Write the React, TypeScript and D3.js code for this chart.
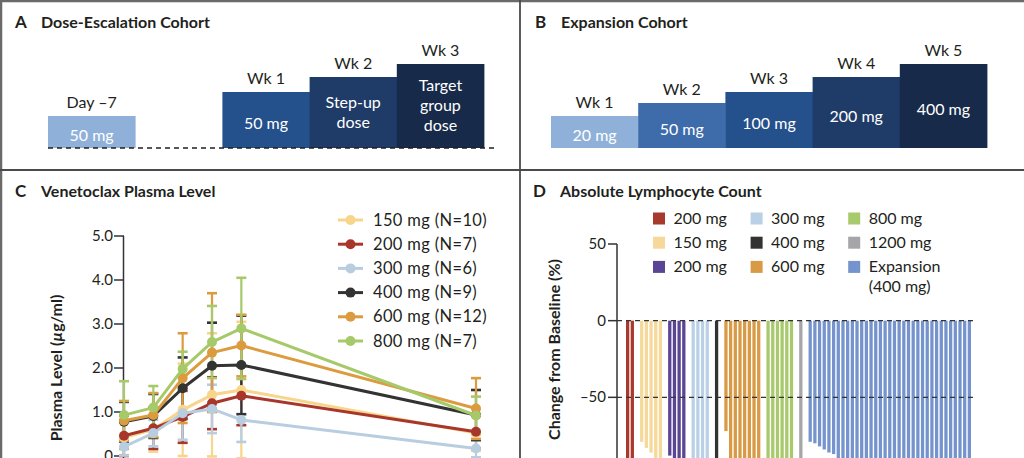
import React from 'react';
import * as d3 from 'd3';

const FONT = "Lato, 'Open Sans', 'DejaVu Sans', sans-serif";
const INK = '#231f20';

// ---------- Panel A: dose-escalation schedule ----------
const escalationWeeks = ['Day –7', 'Wk 1', 'Wk 2', 'Wk 3'];
const escalationSlots = [0, 2, 3, 4];
const escalationDoses = [['50 mg'], ['50 mg'], ['Step-up', 'dose'], ['Target', 'group', 'dose']];
const escalationLevels = [1, 3, 4, 5];
const escalationColors = ['#8fb1d9', '#24508c', '#1f3b68', '#172a4a'];

// ---------- Panel B: expansion schedule ----------
const expansionWeeks = ['Wk 1', 'Wk 2', 'Wk 3', 'Wk 4', 'Wk 5'];
const expansionDoses = ['20 mg', '50 mg', '100 mg', '200 mg', '400 mg'];
const expansionLevels = [1, 2, 3, 4, 5];
const expansionColors = ['#8fb1d9', '#3e6caa', '#24508c', '#1f3b68', '#172a4a'];

// ---------- Panel C: venetoclax plasma level (µg/ml) ----------
const plasmaHours = [0, 2, 4, 6, 8, 24];
const plasmaLabels = ['150 mg (N=10)', '200 mg (N=7)', '300 mg (N=6)', '400 mg (N=9)', '600 mg (N=12)', '800 mg (N=7)'];
const plasmaColors = ['#f7d58b', '#a8362b', '#b8cde0', '#333333', '#dc9b3e', '#a6c96a'];
const mean150 = [0.42, 0.6, 1.05, 1.39, 1.5, 0.52];
const sd150 = [0.4, 0.5, 1.05, 1.4, 1.55, 0.4];
const mean200 = [0.46, 0.63, 0.89, 1.2, 1.37, 0.55];
const sd200 = [0.46, 0.47, 0.59, 0.59, 0.67, 0.38];
const mean300 = [0.21, 0.52, 0.97, 1.07, 0.82, 0.17];
const sd300 = [0.2, 0.3, 0.6, 0.55, 0.5, 0.2];
const mean400 = [0.78, 0.91, 1.54, 2.05, 2.07, 0.93];
const sd400 = [0.45, 0.5, 0.7, 0.98, 1.12, 0.57];
const mean600 = [0.8, 0.93, 1.77, 2.35, 2.51, 1.08];
const sd600 = [0.45, 0.5, 1.02, 1.35, 0.7, 0.69];
const mean800 = [0.93, 1.1, 1.98, 2.59, 2.9, 0.92];
const sd800 = [0.77, 0.49, 0.39, 0.82, 1.15, 0.43];
const plasmaTicks = [0, 1, 2, 3, 4, 5];

// ---------- Panel D: absolute lymphocyte count change (%) ----------
const alcLabels = ['200 mg', '150 mg', '200 mg', '300 mg', '400 mg', '600 mg', '800 mg', '1200 mg', 'Expansion'];
const alcColors = ['#a8392d', '#f6d99a', '#5a4594', '#b9d0e6', '#333333', '#d99a46', '#a8c96c', '#a6a6a8', '#7593cc'];
const alc200a = [-93, -97];
const alc150 = [-79, -83, -86, -93, -98];
const alc200b = [-88, -94, -97, -99];
const alc300 = [-92, -95, -98, -100];
const alc400 = [-96];
const alc600 = [-72, -91, -94, -96, -97, -98, -99, -100];
const alc800 = [-92, -95, -97, -98, -99, -100];
const alc1200 = [-97];
const alcExpansion = [-79, -80, -82, -84, -86, -87, -90, -91, -91, -92, -92, -93, -93, -94, -94, -95, -95, -95, -96, -96, -96, -97, -97, -97, -98, -98, -98, -98, -99, -99, -99, -99, -100, -100, -100];
const alcTicks = [50, 0, -50];

const alcGroups = [alc200a, alc150, alc200b, alc300, alc400, alc600, alc800, alc1200, alcExpansion];

function fmtMinus(v: number) {
  return v < 0 ? '–' + Math.abs(v) : String(v);
}

export default function App() {
  // shared step height scale for A and B
  const levelY = d3.scaleLinear().domain([0, 1, 2, 3, 4, 5]).range([148, 116, 103, 92, 77, 64]);
  const slotA = d3.scaleBand<number>().domain(d3.range(5)).range([48, 484]);
  const slotB = d3.scaleBand<number>().domain(d3.range(5)).range([551, 987]);

  // panel C
  const xC = d3.scaleLinear().domain([0, 24]).range([124, 476]);
  const yC = d3.scaleLinear().domain([0, 5]).range([456, 236]);
  const means = [mean150, mean200, mean300, mean400, mean600, mean800];
  const sds = [sd150, sd200, sd300, sd400, sd600, sd800];
  const plasmaTable = plasmaLabels.map((label, i) => ({
    label,
    color: plasmaColors[i],
    pts: plasmaHours.map((h, j) => ({ h, m: means[i][j], sd: sds[i][j] })),
  }));
  const line = d3
    .line<{ h: number; m: number }>()
    .x((d) => xC(d.h))
    .y((d) => yC(d.m));

  // panel D
  const bars: { v: number; g: number; slot: number }[] = [];
  let slot = 0;
  alcGroups.forEach((vals, g) => {
    vals.forEach((v) => {
      bars.push({ v, g, slot });
      slot += 1;
    });
    if (g < alcGroups.length - 1) slot += 1;
  });
  const xD = d3.scaleBand<number>().domain(d3.range(slot)).range([626, 971]).paddingInner(0.3).paddingOuter(0);
  const yD = d3.scaleLinear().domain([-100, 50]).range([474, 244]);

  const txt = { fontFamily: FONT, fill: INK } as const;

  return (
    <svg
      width={1024}
      height={458}
      style={{ position: 'absolute', left: 0, top: 0, background: '#fff' }}
      fontFamily={FONT}
    >
      <rect x={0} y={0} width={1024} height={458} fill="#fff" />

      {/* frames */}
      <line x1={0} y1={1} x2={1024} y2={1} stroke="#6a6a6a" strokeWidth={2.5} />
      <line x1={1} y1={0} x2={1} y2={458} stroke="#6a6a6a" strokeWidth={2.5} />
      <line x1={520} y1={0} x2={520} y2={458} stroke="#4a4a4a" strokeWidth={1.8} />
      <line x1={0} y1={170} x2={1024} y2={170} stroke="#4a4a4a" strokeWidth={1.8} />

      {/* ===== Panel A ===== */}
      <text x={15} y={28} fontSize={17} fontWeight={700} {...txt}>A</text>
      <text x={41} y={28} fontSize={16} fontWeight={700} {...txt}>Dose-Escalation Cohort</text>
      {escalationWeeks.map((wk, i) => {
        const s = escalationSlots[i];
        const x0 = slotA(s)!;
        const w = slotA.bandwidth();
        const top = levelY(escalationLevels[i]);
        const bottom = levelY(0);
        const mid = (top + bottom) / 2;
        const lines = escalationDoses[i];
        const cx = x0 + w / 2;
        return (
          <g key={'a' + i}>
            <rect x={x0} y={top} width={w + 0.4} height={bottom - top} fill={escalationColors[i]} />
            <text x={cx} y={top - 8} fontSize={16} textAnchor="middle" {...txt}>{wk}</text>
            {lines.map((l, k) => (
              <text
                key={k}
                x={cx}
                y={lines.length === 1 ? mid + 9 : mid + 5 + (k - (lines.length - 1) / 2) * 20}
                fontSize={16}
                textAnchor="middle"
                fill="#ffffff"
                fontFamily={FONT}
              >
                {l}
              </text>
            ))}
          </g>
        );
      })}
      <line x1={48} y1={148} x2={498} y2={148} stroke={INK} strokeWidth={1.3} strokeDasharray="5 4" />

      {/* ===== Panel B ===== */}
      <text x={535} y={28} fontSize={17} fontWeight={700} {...txt}>B</text>
      <text x={561} y={28} fontSize={16} fontWeight={700} {...txt}>Expansion Cohort</text>
      {expansionWeeks.map((wk, i) => {
        const x0 = slotB(i)!;
        const w = slotB.bandwidth();
        const top = levelY(expansionLevels[i]);
        const bottom = levelY(0);
        const mid = (top + bottom) / 2;
        const cx = x0 + w / 2;
        return (
          <g key={'b' + i}>
            <rect x={x0} y={top} width={w + 0.4} height={bottom - top} fill={expansionColors[i]} />
            <text x={cx} y={top - 8} fontSize={16} textAnchor="middle" {...txt}>{wk}</text>
            <text x={cx} y={mid + 9} fontSize={16} textAnchor="middle" fill="#ffffff" fontFamily={FONT}>
              {expansionDoses[i]}
            </text>
          </g>
        );
      })}

      {/* ===== Panel C ===== */}
      <text x={15} y={197} fontSize={17} fontWeight={700} {...txt}>C</text>
      <text x={41} y={197} fontSize={16} fontWeight={700} {...txt}>Venetoclax Plasma Level</text>
      <line x1={xC(0) - 0.5} y1={yC(5)} x2={xC(0) - 0.5} y2={470} stroke="#333" strokeWidth={1.5} />
      {plasmaTicks.map((t) => (
        <g key={'tc' + t}>
          <line x1={xC(0) - 10} x2={xC(0)} y1={yC(t)} y2={yC(t)} stroke="#333" strokeWidth={1.5} />
          <text x={xC(0) - 11} y={yC(t) + 5} fontSize={15} textAnchor="end" {...txt}>
            {t === 0 ? '0' : t.toFixed(1)}
          </text>
        </g>
      ))}
      <text
        transform={`translate(62,368) rotate(-90)`}
        fontSize={16}
        fontWeight={700}
        textAnchor="middle"
        {...txt}
      >
        Plasma Level (<tspan fontStyle="italic">µ</tspan>g/ml)
      </text>
      {/* error bars */}
      {plasmaTable.map((s, i) => (
        <g key={'eb' + i} stroke={s.color} strokeWidth={2.2}>
          {s.pts.map((p, j) => {
            const x = xC(p.h);
            const y1 = yC(p.m + p.sd);
            const y2 = yC(p.m - p.sd);
            return (
              <g key={j}>
                <line x1={x} x2={x} y1={y1} y2={y2} />
                <line x1={x - 5} x2={x + 5} y1={y1} y2={y1} strokeWidth={2.6} />
                <line x1={x - 5} x2={x + 5} y1={y2} y2={y2} strokeWidth={2.6} />
              </g>
            );
          })}
        </g>
      ))}
      {/* lines and markers */}
      {plasmaTable.map((s, i) => (
        <g key={'ln' + i}>
          <path d={line(s.pts) || ''} fill="none" stroke={s.color} strokeWidth={3} strokeLinejoin="round" />
          {s.pts.map((p, j) => (
            <circle key={j} cx={xC(p.h)} cy={yC(p.m)} r={5} fill={s.color} />
          ))}
        </g>
      ))}
      {/* legend C */}
      {plasmaTable.map((s, i) => {
        const y = 220 + i * 24.2;
        return (
          <g key={'lc' + i}>
            <line x1={338} x2={363} y1={y} y2={y} stroke={s.color} strokeWidth={3} />
            <circle cx={350.5} cy={y} r={5} fill={s.color} />
            <text x={373} y={y + 5.5} fontSize={16.5} letterSpacing={0.35} {...txt}>{s.label}</text>
          </g>
        );
      })}

      {/* ===== Panel D ===== */}
      <text x={533} y={197} fontSize={17} fontWeight={700} {...txt}>D</text>
      <text x={560} y={197} fontSize={16} fontWeight={700} {...txt}>Absolute Lymphocyte Count</text>
      <line x1={617} y1={yD(50)} x2={617} y2={470} stroke="#333" strokeWidth={1.5} />
      {alcTicks.map((t) => (
        <g key={'td' + t}>
          <line x1={608} x2={617} y1={yD(t)} y2={yD(t)} stroke="#333" strokeWidth={1.5} />
          <text x={606} y={yD(t) + 5} fontSize={15} textAnchor="end" {...txt}>{fmtMinus(t)}</text>
        </g>
      ))}
      <text
        transform={`translate(560,259) rotate(-90)`}
        fontSize={16}
        fontWeight={700}
        textAnchor="end"
        {...txt}
      >
        Change from Baseline (%)
      </text>
      {bars.map((b, i) => (
        <rect
          key={'bd' + i}
          x={xD(b.slot)}
          y={yD(0)}
          width={xD.bandwidth()}
          height={yD(b.v) - yD(0)}
          fill={alcColors[b.g]}
        />
      ))}
      {[0, -50].map((t) => (
        <line
          key={'gd' + t}
          x1={617}
          x2={975}
          y1={yD(t)}
          y2={yD(t)}
          stroke="#333"
          strokeWidth={1.4}
          strokeDasharray="5 4"
        />
      ))}
      {/* legend D */}
      {alcLabels.map((l, i) => {
        const col = Math.floor(i / 3);
        const row = i % 3;
        const x = 653 + col * 97.6;
        const y = 218.5 + row * 24.2;
        return (
          <g key={'ld' + i}>
            <rect x={x} y={y - 6} width={12} height={12} fill={alcColors[i]} />
            <text x={x + 20.5} y={y + 5.5} fontSize={16} {...txt}>{l}</text>
            {i === alcLabels.length - 1 && (
              <text x={x + 20.5} y={y + 5.5 + 20} fontSize={16} {...txt}>(400 mg)</text>
            )}
          </g>
        );
      })}
    </svg>
  );
}
